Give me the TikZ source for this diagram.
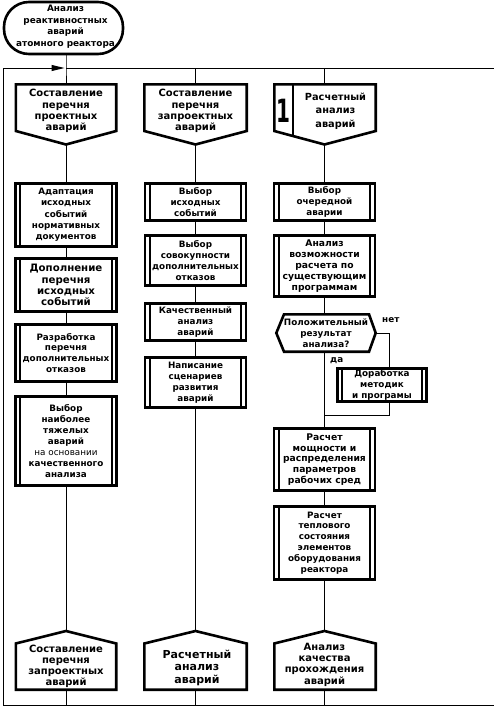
\documentclass[tikz,border=0pt]{standalone}
\usepackage{fontspec}
\setmainfont{DejaVu Sans}
\usetikzlibrary{calc,arrows.meta}
\begin{document}
\begin{tikzpicture}[x=1pt,y=-1pt,
  every node/.style={inner sep=0pt, align=center},
  txt/.style={font=\fontsize{8.8}{10.9}\selectfont\bfseries},
  big/.style={font=\fontsize{10}{11.2}\selectfont\bfseries},
  proc/.style={draw, line width=2.6pt, minimum width=101pt, txt},
  frm/.style={line width=2.6pt, line join=miter},
  conn/.style={line width=1pt},
  inner/.style={line width=2pt},
  lbl/.style={font=\fontsize{8.8}{10}\selectfont\bfseries, anchor=west},
]
\useasboundingbox (0,0) rectangle (494,707);

% terminal
\node[draw, line width=2.6pt, rounded corners=25pt, minimum width=119pt, minimum height=52pt] (S) at (63.5,28) {};
\node[font=\fontsize{8.9}{11.5}\selectfont\bfseries] (St) at (65.5,26.5) {Анализ\\реактивностных\\аварий\\атомного реактора};

% frame coordinates
\coordinate (FL) at (3,68);
\coordinate (FR) at (494,68);
\coordinate (FBL) at (3,705);
\coordinate (FBR) at (494,705);
\coordinate (J1) at (66,68);
\coordinate (J2) at (195.5,68);
\coordinate (J3) at (324.5,68);

% top pentagons
\coordinate (T1top) at (66,84);
\coordinate (T1bot) at (66,144.5);
\draw[frm] (15.8,84.3) -- (116.2,84.3) -- (116.2,131) -- (66,144.5) -- (15.8,131) -- cycle;
\node[big] (T1) at (66,111) {Составление\\перечня\\проектных\\аварий};

\coordinate (T2top) at (195.5,84);
\coordinate (T2bot) at (195.5,144.5);
\draw[frm] (144.3,84.3) -- (246.7,84.3) -- (246.7,131) -- (195.5,144.5) -- (144.3,131) -- cycle;
\node[big] (T2) at (195.5,111) {Составление\\перечня\\запроектных\\аварий};

\coordinate (T3top) at (324.5,84);
\coordinate (T3bot) at (324.5,144.5);
\draw[frm] (274.3,84.3) -- (375.7,84.3) -- (375.7,131) -- (324.5,144.5) -- (274.3,131) -- cycle;
\draw[frm] (293,84.3) -- (293,136);
\node[font=\fontsize{20}{20}\selectfont\bfseries] (T3n) at (283.5,111) {\scalebox{1}[1.6]{1}};
\node[font=\fontsize{9.8}{13.5}\selectfont\bfseries] (T3) at (335.5,111) {Расчетный\\анализ\\аварий};

% column 1
\node[proc, minimum height=63.4pt, font=\fontsize{8.8}{11.3}\selectfont\bfseries] (A1) at (66,215) {Адаптация\\исходных\\событий\\нормативных\\документов};
\node[proc, minimum height=53.4pt, font=\fontsize{10.2}{11.2}\selectfont\bfseries] (A2) at (66,285) {Дополнение\\перечня\\исходных\\событий};
\node[proc, minimum height=57.4pt] (A3) at (66,353) {Разработка\\перечня\\дополнительных\\отказов};
\node[proc, minimum height=89.4pt] (A4) at (66,441) {Выбор\\наиболее\\тяжелых\\аварий\\{\mdseries на основании}\\качественного\\анализа};

% column 2
\node[proc, minimum height=37.4pt] (B1) at (195.5,202) {Выбор\\исходных\\событий};
\node[proc, minimum height=50.4pt] (B2) at (195.5,260.5) {Выбор\\совокупности\\дополнительных\\отказов};
\node[proc, minimum height=37.4pt] (B3) at (195.5,322) {Качественный\\анализ\\аварий};
\node[proc, minimum height=50.4pt] (B4) at (195.5,382.5) {Написание\\сценариев\\развития\\аварий};

% column 3
\node[proc, minimum height=37.4pt] (C1) at (324.5,202) {Выбор\\очередной\\аварии};
\node[proc, minimum height=61.4pt, font=\fontsize{9.2}{10.8}\selectfont\bfseries] (C2) at (324.5,266) {Анализ\\возможности\\расчета по\\существующим\\программам};
\node[proc, minimum height=62.4pt, font=\fontsize{9.2}{10.9}\selectfont\bfseries] (C3) at (324.5,459.5) {Расчет\\мощности и\\распределения\\параметров\\рабочих сред};
\node[proc, minimum height=73.4pt] (C4) at (324.5,543) {Расчет\\теплового\\состояния\\элементов\\оборудования\\реактора};
\node[proc, minimum width=89.4pt, minimum height=33.4pt] (D) at (382,385) {Доработка\\методик\\и програмы};

% inner vertical lines of process boxes
\foreach \n in {A1,A2,A3,A4,B1,B2,B3,B4,C1,C2,C3,C4,D}{
  \draw[inner] ($(\n.north west)+(6,0)$) -- ($(\n.south west)+(6,0)$);
  \draw[inner] ($(\n.north east)+(-6,0)$) -- ($(\n.south east)+(-6,0)$);
}

% decision hexagon
\coordinate (Htop) at (324.5,314.3);
\coordinate (Hbot) at (324.5,351.7);
\coordinate (Hright) at (375.7,333);
\draw[frm] (276.3,333) -- (284,314.3) -- (369,314.3) -- (375.7,333) -- (369,351.7) -- (284,351.7) -- cycle;
\node[txt] (H) at (326,333) {Положительный\\результат\\анализа?};
\node[lbl] (no) at (382,320) {нет};
\node[lbl] (yes) at (330,361) {да};

% bottom houses
\coordinate (H1top) at (66,631);
\coordinate (H1bot) at (66,689.7);
\draw[frm] (66,631) -- (116.2,643.5) -- (116.2,689.7) -- (15.8,689.7) -- (15.8,643.5) -- cycle;
\node[font=\fontsize{10}{10.8}\selectfont\bfseries] (E1) at (66,666.5) {Составление\\перечня\\запроектных\\аварий};

\coordinate (H2top) at (195.5,631);
\coordinate (H2bot) at (195.5,689.7);
\draw[frm] (195.5,631) -- (246.7,643.5) -- (246.7,689.7) -- (144.3,689.7) -- (144.3,643.5) -- cycle;
\node[font=\fontsize{11}{12.5}\selectfont\bfseries] (E2) at (197,667.5) {Расчетный\\анализ\\аварий};

\coordinate (H3top) at (324.5,631);
\coordinate (H3bot) at (324.5,689.7);
\draw[frm] (324.5,631) -- (375.7,643.5) -- (375.7,689.7) -- (274.3,689.7) -- (274.3,643.5) -- cycle;
\node[font=\fontsize{10}{11.3}\selectfont\bfseries] (E3) at (324.5,664.5) {Анализ\\качества\\прохождения\\аварий};

% frame
\draw[conn] (FR) -- (J1);
\draw[conn, -{Triangle[length=13pt,width=6pt]}] (FL) -- ($(J1)+(-1.5,0)$);
\draw[conn] (FL) -- (FBL) -- (FBR);

% connectors
\draw[conn] (S.south -| J1) -- (J1) -- (T1top);
\draw[conn] (J2) -- (T2top);
\draw[conn] (J3) -- (T3top);

\draw[conn] (T1bot) -- (A1.north -| T1bot);
\draw[conn] (A1) -- (A2);
\draw[conn] (A2) -- (A3);
\draw[conn] (A3) -- (A4);
\draw[conn] (A4.south -| H1top) -- (H1top);

\draw[conn] (T2bot) -- (B1.north -| T2bot);
\draw[conn] (B1.south -| T2bot) -- (B2.north -| T2bot);
\draw[conn] (B2.south -| T2bot) -- (B3.north -| T2bot);
\draw[conn] (B3.south -| T2bot) -- (B4.north -| T2bot);
\draw[conn] (B4.south -| H2top) -- (H2top);

\draw[conn] (T3bot) -- (C1.north -| T3bot);
\draw[conn] (C1.south -| T3bot) -- (C2.north -| T3bot);
\draw[conn] (C2.south -| T3bot) -- (Htop);
\draw[conn] (Hbot) -- (C3.north -| Hbot);
\draw[conn] (C3.south -| Hbot) -- (C4.north -| Hbot);
\draw[conn] (C4.south -| H3top) -- (H3top);

\coordinate (K) at (389,333);
\coordinate (M) at (324.5,415);
\draw[conn] (Hright) -- (K) -- (K |- D.north);
\draw[conn] (D.south -| K) |- (M);

\draw[conn] (H1bot) -- (H1bot |- FBL);
\draw[conn] (H2bot) -- (H2bot |- FBL);
\draw[conn] (H3bot) -- (H3bot |- FBL);
\end{tikzpicture}
\end{document}
